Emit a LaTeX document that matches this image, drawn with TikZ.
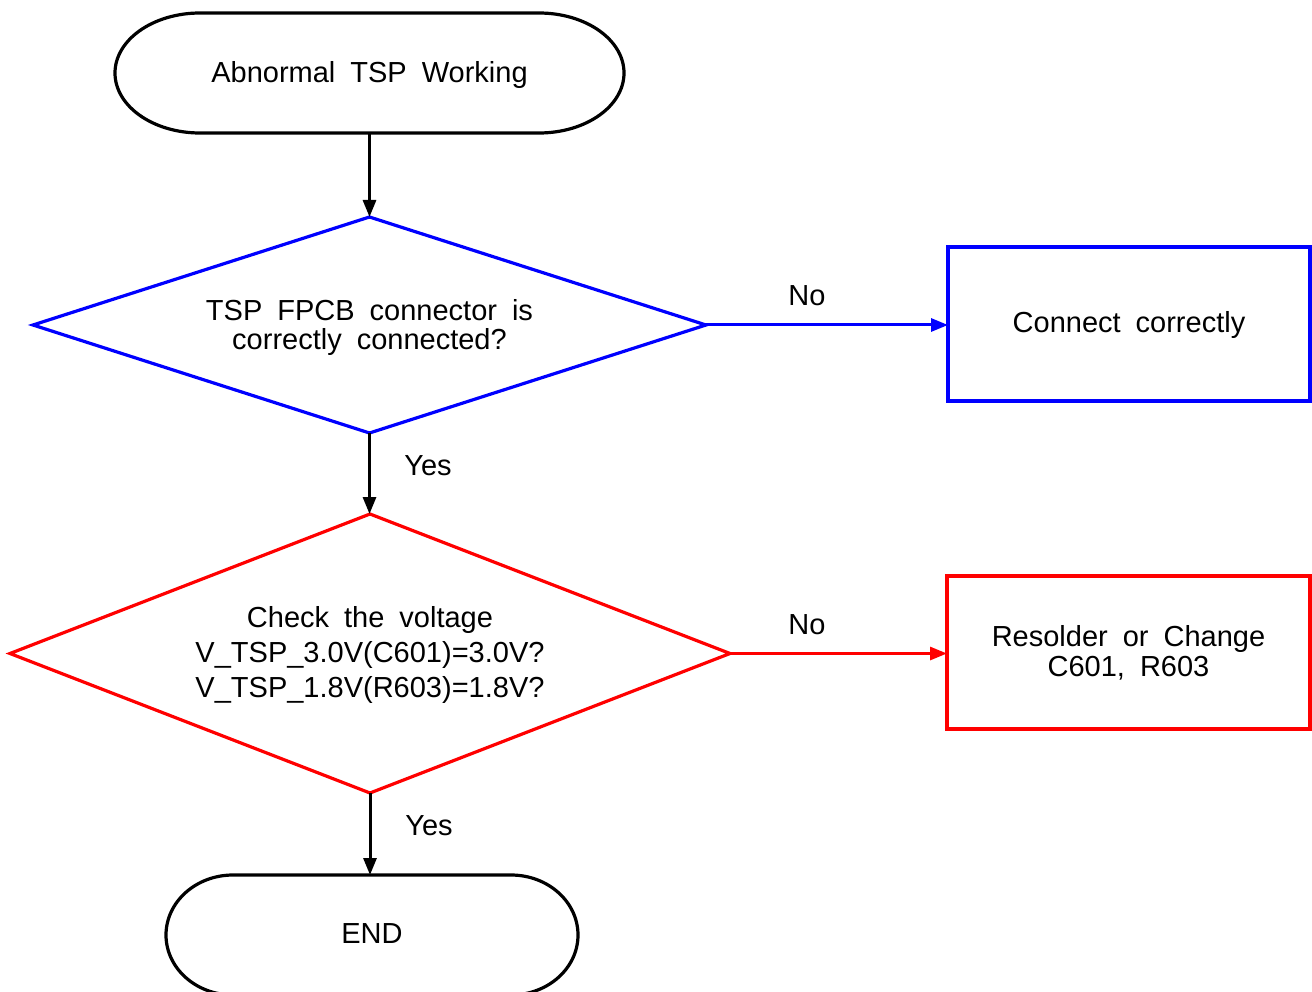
\documentclass[tikz,border=0pt]{standalone}
\usepackage{fontspec}
\setmainfont{Liberation Sans}
\usetikzlibrary{shapes.geometric,arrows.meta}
\newcommand\wsfont{\fontsize{29}{29}\selectfont\spaceskip=15pt plus 2pt minus 0pt\relax}
\newcommand\wsfontB{\fontsize{29}{35}\selectfont\spaceskip=15pt plus 2pt minus 0pt\relax}
\newcommand\wsfontC{\fontsize{29}{30}\selectfont\spaceskip=15pt plus 2pt minus 0pt\relax}
\definecolor{pblue}{RGB}{0,0,255}
\definecolor{pred}{RGB}{255,0,0}
\begin{document}
\begin{tikzpicture}[x=1pt,y=1pt,
  txt/.style={font=\wsfont,align=center,inner sep=0pt},
  holder/.style={draw=none,inner sep=0pt,outer sep=0pt},
  termline/.style={draw=black,line width=3.2pt},
  dia/.style={diamond,inner sep=0pt,outer sep=0pt,line width=3.2pt},
  procbox/.style={rectangle,inner sep=0pt,outer sep=0pt,line width=3.6pt},
  conn/.style={line width=3pt,-{Triangle[length=17pt,width=13pt]}},
  lbl/.style={font=\wsfont,inner sep=0pt}]
\useasboundingbox (0,0) rectangle (1312,-992);
\clip (0,0) rectangle (1312,-992);
% start terminator
\draw[termline] (200,-13) -- (539,-13) arc[start angle=90,end angle=-90,x radius=85,y radius=60] -- (200,-133) arc[start angle=270,end angle=90,x radius=85,y radius=60] -- cycle;
\node[holder,minimum width=509,minimum height=120] (start) at (369.5,-73) {};
\node[txt] (starttxt) at (369.5,-75) {Abnormal TSP Working};
% diamond 1
\node[dia,draw=pblue,minimum width=673,minimum height=216] (d1) at (369.5,-325) {};
\node[txt] (d1txt) at (369.5,-328) {TSP FPCB connector is\\correctly connected?};
% box 1
\node[procbox,draw=pblue,minimum width=362,minimum height=154] (c1) at (1129,-324) {};
\node[txt] (c1txt) at (1129,-325) {Connect correctly};
% diamond 2
\node[dia,draw=pred,minimum width=720,minimum height=279] (d2) at (370,-653.5) {};
\node[txt,font=\wsfontB] (d2txt) at (370,-655) {Check the voltage\\V\_TSP\_3.0V(C601)=3.0V?\\V\_TSP\_1.8V(R603)=1.8V?};
% box 2
\node[procbox,draw=pred,minimum width=363,minimum height=153] (r1) at (1128.5,-652.5) {};
\node[txt,font=\wsfontC] (r1txt) at (1128.5,-653) {Resolder or Change\\C601, R603};
% end terminator
\draw[termline] (233,-875) -- (511,-875) arc[start angle=90,end angle=-90,x radius=67,y radius=60] -- (233,-995) arc[start angle=270,end angle=90,x radius=67,y radius=60] -- cycle;
\node[holder,minimum width=412,minimum height=120] (fin) at (372,-935) {};
\node[txt] (fintxt) at (372,-934) {END};
% connectors
\draw[conn,black] (start.south) -- (start.south |- d1.north);
\draw[conn,pblue] (d1.east) -- (d1.east -| c1.west);
\draw[conn,black] (d1.south) -- (d1.south |- d2.north);
\draw[conn,pred] (d2.east) -- (d2.east -| r1.west);
\draw[conn,black] (d2.south) -- (d2.south |- fin.north);
% labels
\node[lbl] (no1) at (807,-296) {No};
\node[lbl] (yes1) at (428,-466) {Yes};
\node[lbl] (no2) at (807,-625) {No};
\node[lbl] (yes2) at (429,-826) {Yes};
\end{tikzpicture}
\end{document}
